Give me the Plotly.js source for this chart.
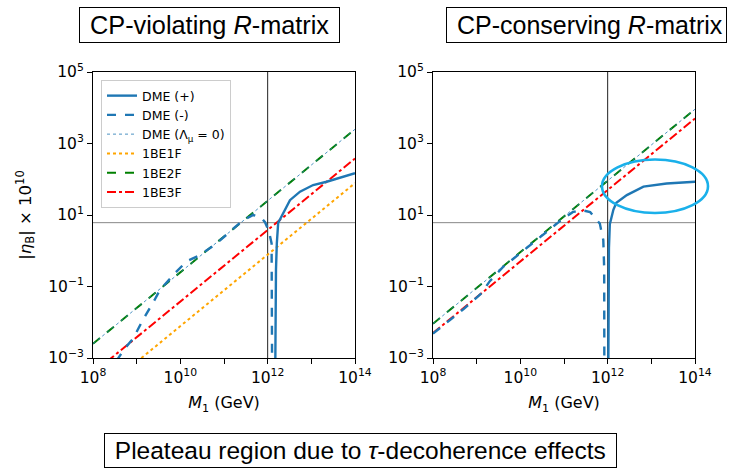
<!DOCTYPE html>
<html>
<head>
<meta charset="utf-8">
<script src="https://cdn.plot.ly/plotly-3.0.1.min.js"></script>
<style>html,body{margin:0;padding:0;background:#fff;}#chart{width:729px;height:474px;}</style>
</head>
<body>
<div id="chart"></div>
<script>
// ---------- data ----------
// Left panel: CP-violating R-matrix
const L_dmePlus_x = [1.48e12, 1.51e12, 1.55e12, 1.62e12, 1.74e12, 1.91e12, 2.51e12, 3.24e12, 5.5e12, 1.1e13, 2.24e13, 6.3e13, 1e14];
const L_dmePlus_y = [1e-4, 0.01, 0.3, 1.6, 6.0, 7.5, 14, 26, 45, 69, 85, 123, 148];
const L_dmeMinus_x = [3.39e8, 5.25e8, 8.3e8, 1.38e9, 2.57e9, 3.39e9, 7.4e9, 1.38e10, 2.82e10, 6.76e10, 1.58e11, 2.75e11, 4.68e11, 7.1e11, 8.7e11, 1.07e12, 1.23e12, 1.259e12, 1.27e12];
const L_dmeMinus_y = [8e-4, 1.8e-3, 3.5e-3, 0.0115, 0.042, 0.079, 0.23, 0.5, 0.76, 1.6, 4.0, 7.2, 10, 8.5, 6.3, 3.5, 1.6, 0.16, 1e-4];
const L_dmeLam0_x = [1e8, 1e14];
const L_dmeLam0_y = [2.5e-3, 2.5e3];
const L_be1f_x = [1e9, 1e14];
const L_be1f_y = [7.8e-4, 78];
const L_be2f_x = [1e8, 1e14];
const L_be2f_y = [2.5e-3, 2.5e3];
const L_be3f_x = [1e8, 1e14];
const L_be3f_y = [3.8e-4, 380];

// Right panel: CP-conserving R-matrix
const R_dmePlus_x = [1.028e12, 1.047e12, 1.07e12, 1.12e12, 1.35e12, 1.58e12, 2.75e12, 6.6e12, 2.24e13, 1e14];
const R_dmePlus_y = [1e-4, 0.1, 1.2, 5.5, 14, 22, 36, 62, 76, 85];
const R_dmeMinus_x = [1e8, 5.01e8, 1.26e9, 2.0e9, 3.98e9, 1e10, 3.16e10, 1e11, 1.58e11, 2.51e11, 3.98e11, 5.62e11, 6.61e11, 7.94e11, 8.32e11, 8.41e11];
const R_dmeMinus_y = [4.8e-3, 0.0234, 0.063, 0.141, 0.347, 0.87, 2.75, 8.3, 12, 13.8, 12, 7.6, 5.75, 2.0, 0.32, 1e-4];
const R_dmeLam0_x = [1e8, 1e14];
const R_dmeLam0_y = [9.1e-3, 9.1e3];
const R_be2f_x = [1e8, 1e14];
const R_be2f_y = [9.1e-3, 9.1e3];
const R_be3f_x = [1e8, 1e14];
const R_be3f_y = [5e-3, 5e3];

// reference lines
const obsEta = 6.1;          // observed |eta_B| x 1e10
const refMass = 1e12;        // vertical marker
const xRange = [1e8, 1e14];
const yRange = [1e-3, 1e5];

// ticks
const xTickVals = [1e8, 1e9, 1e10, 1e11, 1e12, 1e13, 1e14];
const xTickText = ['10<sup>8</sup>', '', '10<sup>10</sup>', '', '10<sup>12</sup>', '', '10<sup>14</sup>'];
const yTickVals = [1e-3, 1e-1, 1e1, 1e3, 1e5];
const yTickText = ['10<sup>\u22123</sup>', '10<sup>\u22121</sup>', '10<sup>1</sup>', '10<sup>3</sup>', '10<sup>5</sup>'];

// ---------- styles ----------
const BLUE = '#1f77b4', ORANGE = '#ffa500', GREEN = '#008000', RED = '#ff0000';

function tr(x, y, xa, ya, name, color, dash, width, legend) {
  return {x: x, y: y, xaxis: xa, yaxis: ya, name: name, type: 'scatter', mode: 'lines',
    line: {color: color, dash: dash, width: width}, showlegend: legend, hoverinfo: 'skip'};
}

const data = [
  // reference lines
  tr(xRange, [obsEta, obsEta], 'x', 'y', 'obs', '#888888', 'solid', 1, false),
  tr([refMass, refMass], yRange, 'x', 'y', 'M', '#222222', 'solid', 1, false),
  tr(xRange, [obsEta, obsEta], 'x2', 'y2', 'obs', '#888888', 'solid', 1, false),
  tr([refMass, refMass], yRange, 'x2', 'y2', 'M', '#222222', 'solid', 1, false),
  // left
  tr(L_be1f_x, L_be1f_y, 'x', 'y', '1BE1F', ORANGE, 'dot', 2, false),
  tr(L_be2f_x, L_be2f_y, 'x', 'y', '1BE2F', GREEN, 'dash', 2, false),
  tr(L_be3f_x, L_be3f_y, 'x', 'y', '1BE3F', RED, 'dashdot', 2, false),
  tr(L_dmeLam0_x, L_dmeLam0_y, 'x', 'y', 'DME (Λ<sub>μ</sub> = 0)', BLUE, 'dot', 0.8, false),
  tr(L_dmePlus_x, L_dmePlus_y, 'x', 'y', 'DME (+)', BLUE, 'solid', 2.4, false),
  tr(L_dmeMinus_x, L_dmeMinus_y, 'x', 'y', 'DME (-)', BLUE, 'dash', 2.4, false),
  // right
  tr(R_be2f_x, R_be2f_y, 'x2', 'y2', '1BE2F', GREEN, 'dash', 2, false),
  tr(R_be3f_x, R_be3f_y, 'x2', 'y2', '1BE3F', RED, 'dashdot', 2, false),
  tr(R_dmeLam0_x, R_dmeLam0_y, 'x2', 'y2', 'DME (Λ<sub>μ</sub> = 0)', BLUE, 'dot', 0.8, false),
  tr(R_dmePlus_x, R_dmePlus_y, 'x2', 'y2', 'DME (+)', BLUE, 'solid', 2.4, false),
  tr(R_dmeMinus_x, R_dmeMinus_y, 'x2', 'y2', 'DME (-)', BLUE, 'dash', 2.4, false),
  // legend-only entries (order as in reference)
  tr([null], [null], 'x', 'y', 'DME (+)', BLUE, 'solid', 2.4, true),
  tr([null], [null], 'x', 'y', 'DME (-)', BLUE, 'dash', 2.4, true),
  tr([null], [null], 'x', 'y', 'DME (Λ<sub>μ</sub> = 0)', BLUE, 'dot', 0.8, true),
  tr([null], [null], 'x', 'y', '1BE1F', ORANGE, 'dot', 2, true),
  tr([null], [null], 'x', 'y', '1BE2F', GREEN, 'dash', 2, true),
  tr([null], [null], 'x', 'y', '1BE3F', RED, 'dashdot', 2, true)
];

const TICKFONT = {family: 'DejaVu Sans', size: 15.5, color: '#000'};
const TITLEFONT = {family: 'DejaVu Sans', size: 16, color: '#000'};
function xax(domain, anchor) {
  return {type: 'log', domain: domain, anchor: anchor, range: [8, 14],
    tickmode: 'array', tickvals: xTickVals, ticktext: xTickText,
    ticks: 'outside', ticklen: 5, tickwidth: 1, tickcolor: '#000',
    showline: true, linecolor: '#000', linewidth: 1, mirror: true,
    showgrid: false, zeroline: false, tickfont: TICKFONT,
    title: {text: '<i>M</i><sub>1</sub> (GeV)', font: TITLEFONT, standoff: 11},
    automargin: false};
}
function yax(anchor, withTitle) {
  const a = {type: 'log', anchor: anchor, domain: [0, 1], range: [-3, 5],
    tickmode: 'array', tickvals: yTickVals, ticktext: yTickText,
    ticks: 'outside', ticklen: 5, tickwidth: 1, tickcolor: '#000',
    showline: true, linecolor: '#000', linewidth: 1, mirror: true,
    showgrid: false, zeroline: false, tickfont: TICKFONT, automargin: false};
  if (withTitle) a.title = {text: '|<i>η</i><sub>B</sub>| × 10<sup>10</sup>', font: {family: 'DejaVu Sans', size: 16.5, color: '#000'}, standoff: 12};
  return a;
}

const W = 729, H = 474, MT = 72, MB = 116;
const PH = H - MT - MB;
function py(p) { return (H - MB - p) / PH; }   // pixel-from-top -> paper y
function px(p) { return p / W; }

const BOXFONT = {family: 'Liberation Sans', size: 25.3, color: '#000'};
const layout = {
  width: W, height: H,
  margin: {l: 0, r: 0, t: MT, b: MB},
  paper_bgcolor: '#fff', plot_bgcolor: '#fff',
  showlegend: true,
  legend: {x: px(101), y: py(80), xanchor: 'left', yanchor: 'top',
    bgcolor: 'rgba(255,255,255,0.9)', bordercolor: '#cccccc', borderwidth: 1,
    font: {family: 'DejaVu Sans', size: 12.5, color: '#000'}, tracegroupgap: 0,
    itemwidth: 30},
  xaxis: xax([93 / W, 355 / W], 'y'),
  yaxis: yax('x', true),
  xaxis2: xax([433 / W, 695 / W], 'y2'),
  yaxis2: yax('x2', false),
  annotations: [
    {xref: 'paper', yref: 'paper', x: px(79), y: py(7), xanchor: 'left', yanchor: 'top',
     text: '&nbsp;CP-violating <i>R</i>-matrix&nbsp;', showarrow: false, font: BOXFONT,
     bordercolor: '#000', borderwidth: 1, borderpad: 3, bgcolor: '#fff'},
    {xref: 'paper', yref: 'paper', x: px(446), y: py(7), xanchor: 'left', yanchor: 'top',
     text: '&nbsp;CP-conserving <i>R</i>-matrix', showarrow: false, font: {family: 'Liberation Sans', size: 25, color: '#000'},
     bordercolor: '#000', borderwidth: 1, borderpad: 3, bgcolor: '#fff'},
    {xref: 'paper', yref: 'paper', x: px(104), y: py(433), xanchor: 'left', yanchor: 'top',
     text: '&nbsp;Pleateau region due to <i>τ</i>-decoherence effects&nbsp;', showarrow: false,
     font: {family: 'Liberation Sans', size: 24.5, color: '#000'},
     bordercolor: '#000', borderwidth: 1, borderpad: 3, bgcolor: '#fff'}
  ],
  shapes: [
    {type: 'circle', xref: 'paper', yref: 'paper', x0: px(602), x1: px(708), y0: py(159.5), y1: py(213),
     line: {color: '#1ab0ea', width: 2.6}, fillcolor: 'rgba(0,0,0,0)'}
  ]
};

Plotly.newPlot('chart', data, layout, {staticPlot: true, displayModeBar: false});
</script>
</body>
</html>
